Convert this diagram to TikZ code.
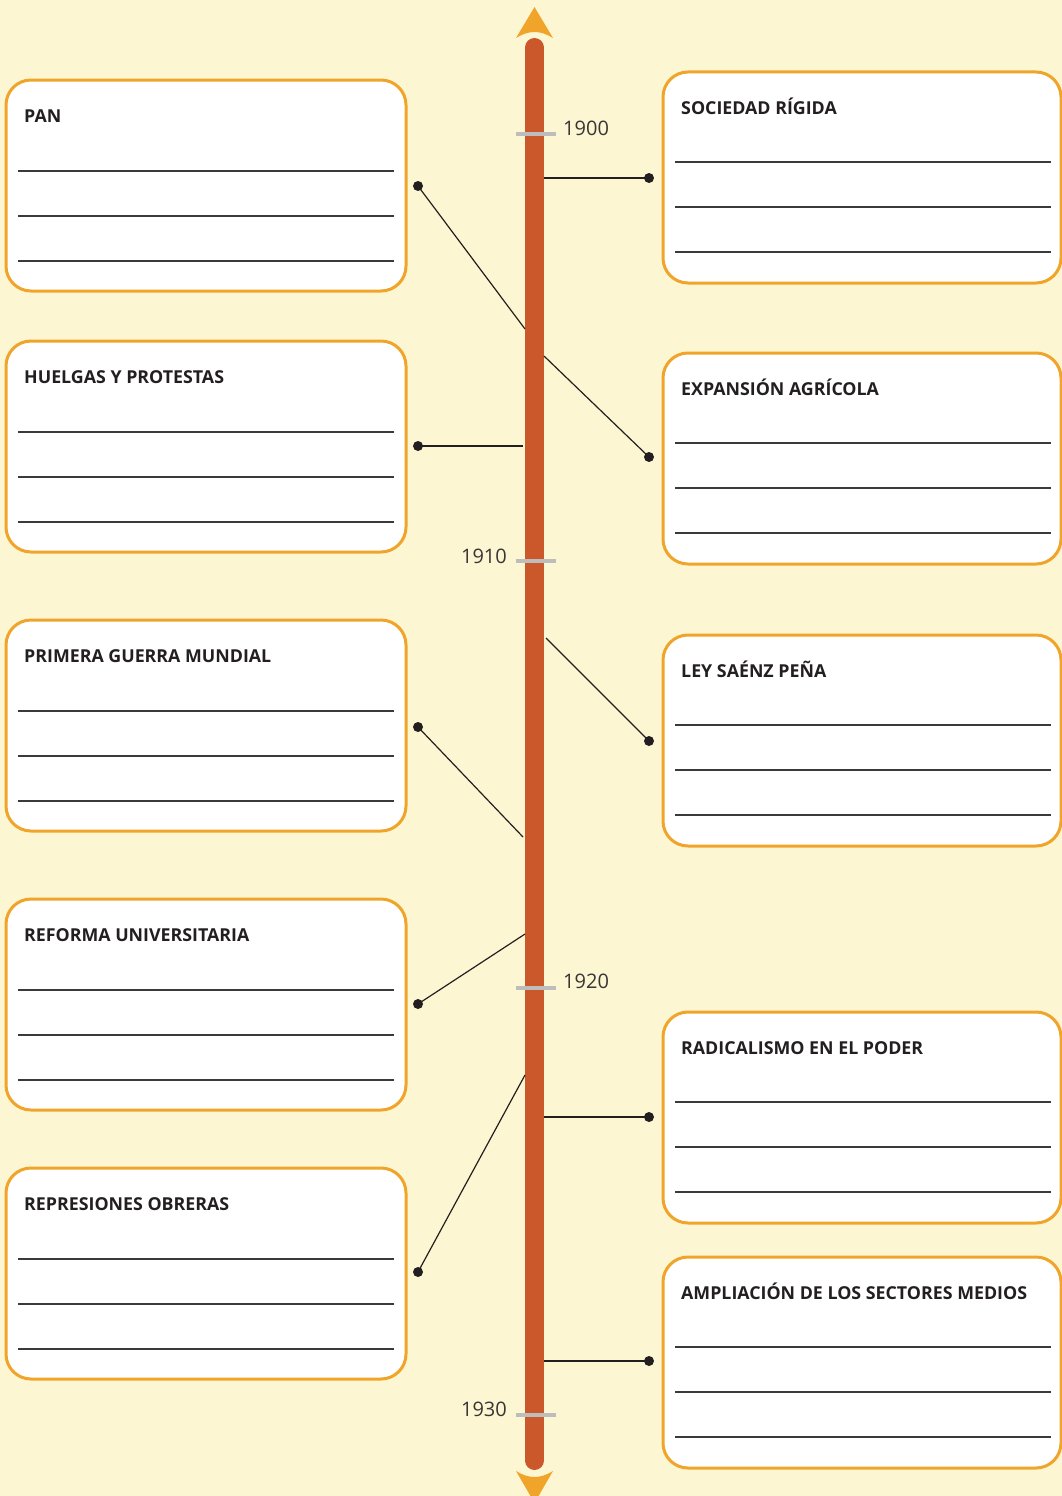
\documentclass[tikz,border=0pt]{standalone}
\usepackage{fontspec}
\setmainfont{Open Sans}
\definecolor{bg}{HTML}{FDF6D3}
\definecolor{bord}{HTML}{F0A52A}
\definecolor{barc}{HTML}{CB582B}
\definecolor{tickc}{HTML}{BDBDBD}
\definecolor{ink}{HTML}{231F20}
\definecolor{rulec}{HTML}{3A3A3A}
\tikzset{
  box/.style={draw=bord, line width=3pt, fill=white, rounded corners=25pt, minimum height=211pt, inner sep=0pt, outer sep=0pt},
  lbox/.style={box, minimum width=400pt},
  rbox/.style={box, minimum width=398pt},
  ruleline/.style={draw=rulec, line width=1.1pt},
  boxtitle/.style={font=\bfseries\fontsize{17.8}{20}\selectfont, text=ink, inner sep=0pt, anchor=base west},
  yearlbl/.style={font=\fontsize{20}{24}\selectfont, text=ink!90, inner sep=0pt},
  dot/.style={circle, fill=ink, inner sep=0pt, minimum size=10pt},
  conn/.style={draw=ink, line width=1.2pt},
  tickmark/.style={draw=tickc, line width=3.5pt},
}
\begin{document}
\begin{tikzpicture}[x=1pt,y=-1pt]
\useasboundingbox (0,0) rectangle (1062,1496);
\clip (0,0) rectangle (1062,1496);
\fill[bg] (0,0) rectangle (1062,1496);

% boxes left
\foreach \n/\t/\ttl in {pan/80/PAN, huel/341/HUELGAS Y PROTESTAS, guerra/620/PRIMERA GUERRA MUNDIAL, reforma/899/REFORMA UNIVERSITARIA, repr/1168/REPRESIONES OBRERAS}{
  \node[lbox] (\n) at (206,\t+105.5) {};
  \node[boxtitle] (\n-t) at ([xshift=18pt,yshift=-42pt]\n.north west) {\ttl};
  \foreach \o in {91,136,181}{
    \draw[ruleline] ([xshift=12pt,yshift=-\o pt]\n.north west) -- ([xshift=-12pt,yshift=-\o pt]\n.north east);
  }
}
% boxes right
\foreach \n/\t/\ttl in {soc/72/SOCIEDAD RÍGIDA, exp/353/EXPANSIÓN AGRÍCOLA, ley/635/LEY SAÉNZ PEÑA, rad/1012/RADICALISMO EN EL PODER, amp/1257/AMPLIACIÓN DE LOS SECTORES MEDIOS}{
  \node[rbox] (\n) at (862,\t+105.5) {};
  \node[boxtitle] (\n-t) at ([xshift=18pt,yshift=-42pt]\n.north west) {\ttl};
  \foreach \o in {90,135,180}{
    \draw[ruleline] ([xshift=12pt,yshift=-\o pt]\n.north west) -- ([xshift=-10pt,yshift=-\o pt]\n.north east);
  }
}

% timeline bar
\draw[barc, line width=19pt, line cap=round] (534.5,47.5) -- (534.5,1460.5);
\fill[bord] (534.5,7) -- (553,38) .. controls (540,30) and (529,30) .. (516,38) -- cycle;
\fill[bord] (534.5,1503) -- (553,1471) .. controls (540,1479) and (529,1479) .. (516,1471) -- cycle;

% ticks and years
\foreach \y in {134,561,988,1415}{
  \draw[tickmark] (516,\y) -- (556,\y);
}
\node[yearlbl, anchor=west] (y1900) at (563,128) {1900};
\node[yearlbl, anchor=east] (y1910) at (507,556) {1910};
\node[yearlbl, anchor=west] (y1920) at (563,981) {1920};
\node[yearlbl, anchor=east] (y1930) at (507,1409) {1930};

% dots and connectors
\node[dot] (dl1) at (418,186) {};
\node[dot] (dl2) at (418,446) {};
\node[dot] (dl3) at (418,727) {};
\node[dot] (dl4) at (418,1004) {};
\node[dot] (dl5) at (418,1272) {};
\node[dot] (dr1) at (649,178) {};
\node[dot] (dr2) at (649,457) {};
\node[dot] (dr3) at (649,741) {};
\node[dot] (dr4) at (649,1117) {};
\node[dot] (dr5) at (649,1361) {};
\coordinate (bl1) at (525,329);
\coordinate (bl2) at (523,446);
\coordinate (bl3) at (523,837);
\coordinate (bl4) at (525,934);
\coordinate (bl5) at (525,1075);
\coordinate (br1) at (544,178);
\coordinate (br2) at (544,356);
\coordinate (br3) at (546,638);
\coordinate (br4) at (544,1117);
\coordinate (br5) at (544,1361);
\foreach \i in {1,...,5}{
  \draw[conn] (dl\i.center) -- (bl\i);
  \draw[conn] (br\i) -- (dr\i.center);
}
\end{tikzpicture}
\end{document}
